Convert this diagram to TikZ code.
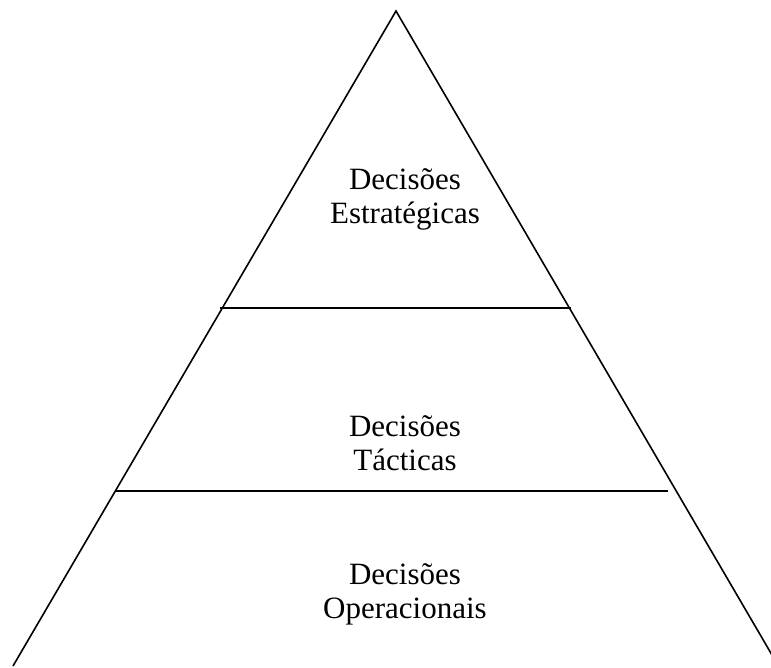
\documentclass[tikz,border=0pt]{standalone}
\usepackage{fontspec}
\setmainfont{Liberation Serif}
\tikzset{
  edge/.style={line width=1.6pt, black},
  label/.style={align=center, font=\fontsize{31}{34}\selectfont, inner sep=0pt}
}
\begin{document}
\begin{tikzpicture}[x=1pt,y=-1pt]
\useasboundingbox (0,0) rectangle (771,667);
\coordinate (apex) at (396,11);
\coordinate (bl) at (13,666);
\coordinate (br) at (772,655);
\coordinate (a1) at (220,308);
\coordinate (b1) at (571,308);
\coordinate (a2) at (115,491);
\coordinate (b2) at (668,491);
\draw[edge] (bl) -- (apex) -- (br);
\draw[edge] (a1) -- (b1);
\draw[edge] (a2) -- (b2);
\node[label] (s) at (405,199) {Decisões\\Estratégicas};
\node[label] (t) at (405,443) {Decisões\\Tácticas};
\node[label] (o) at (405,594) {Decisões\\Operacionais};
\end{tikzpicture}
\end{document}
